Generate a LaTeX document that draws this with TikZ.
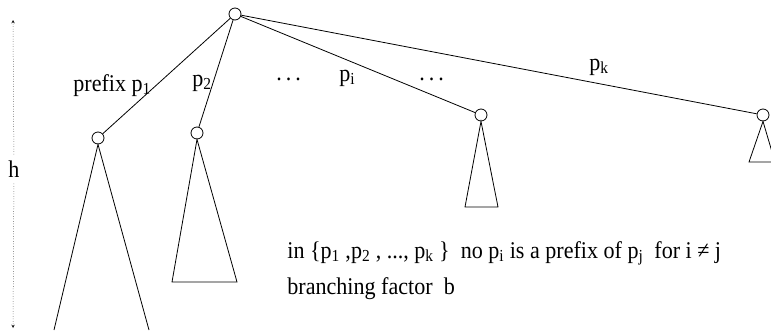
\documentclass[tikz,border=0pt]{standalone}
\usepackage{fontspec}
\setmainfont{Liberation Serif}[FakeStretch=0.92]
\usetikzlibrary{arrows,positioning}

\begin{document}
\begin{tikzpicture}[x=1pt,y=-1pt,line width=0.8pt,
    vertex/.style={draw,circle,inner sep=0pt,minimum size=12pt},
    lbl/.style={font=\fontsize{24}{28}\selectfont,inner sep=0pt}]
  \useasboundingbox (0,0) rectangle (771,330);
  % nodes
  \node[vertex] (root) at (235,14) {};
  \node[vertex] (n1) at (98,138) {};
  \node[vertex] (n2) at (197,133) {};
  \node[vertex] (ni) at (481,115) {};
  \node[vertex] (nk) at (763,115) {};
  % branches
  \draw (root) -- (n1);
  \draw (root) -- (n2);
  \draw (root) -- (ni);
  \draw (root) -- (nk);
  % subtrees
  \coordinate (t1l) at (54,330);
  \coordinate (t1r) at (149,330);
  \draw (t1l) -- (n1.south) -- (t1r);
  \draw (n2.south) -- (172,282) -- (237,282) -- cycle; % second
  \draw (ni.south) -- (465,207) -- (498,207) -- cycle;
  \draw (nk.south) -- (749,162) -- (775,162) -- cycle;
  % labels
  \node[lbl,anchor=base west] (l1) at (73,91) {prefix p\textsubscript{1}};
  \node[lbl,anchor=base west] (l2) at (192,86) {p\textsubscript{2}};
  \node[lbl,anchor=base west] (d1) at (276,80) {.\,.\,.};
  \node[lbl,anchor=base west] (li) at (339,81) {p\textsubscript{i}};
  \node[lbl,anchor=base west] (d2) at (419,80) {.\,.\,.};
  \node[lbl,anchor=base west] (lk) at (589,70) {p\textsubscript{k}};
  % height
  \node[lbl,inner sep=6pt] (h) at (14,169) {h};
  \coordinate (htop) at (13,20);
  \coordinate (hbot) at (13,328);
  \draw[dotted,line width=0.5pt,->,>=stealth] (h) -- (htop);
  \draw[dotted,line width=0.5pt,->,>=stealth] (h) -- (hbot);
  % text
  \node[lbl,anchor=base west] (txt1) at (287,258)
    {in \{p\textsubscript{1} ,p\textsubscript{2} , ..., p\textsubscript{k} \}\ \ no p\textsubscript{i} is a prefix of p\textsubscript{j}\ \ for i ≠ j};
  \node[lbl,anchor=base west] (txt2) at (287,294) {branching factor\ \ b};
\end{tikzpicture}
\end{document}
